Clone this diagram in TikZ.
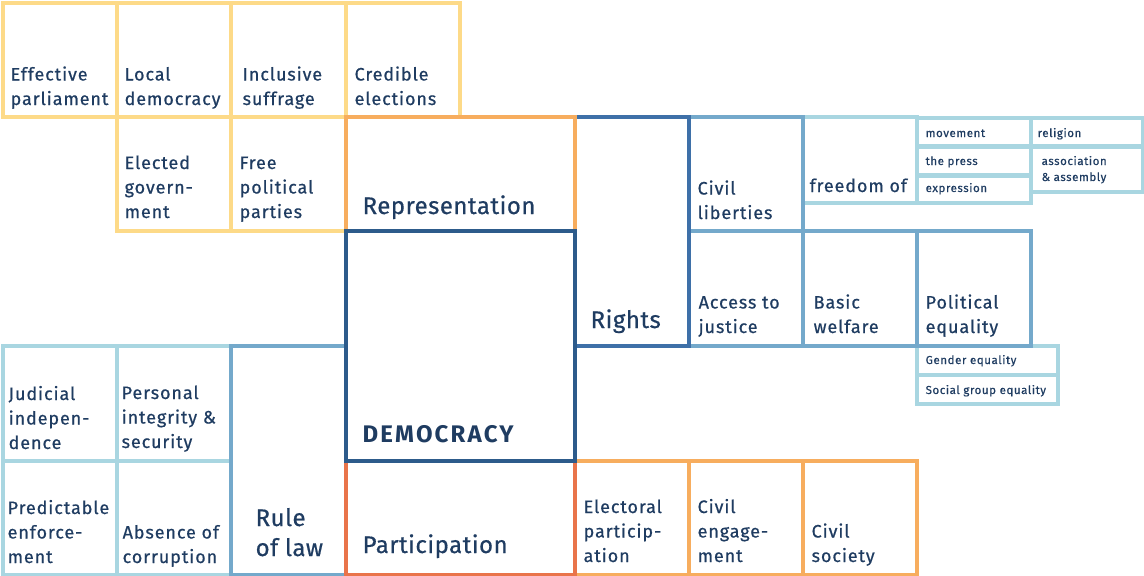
\documentclass[tikz,border=0pt]{standalone}
\usepackage{fontspec}
\setmainfont{Fira Sans}[LetterSpace=5, FakeBold=0.6]
\newfontfamily\bigfont{Fira Sans}[LetterSpace=2, FakeBold=0.6]
\newfontfamily\demfont{Fira Sans}[LetterSpace=9]
\definecolor{yel}{HTML}{FDDA88}
\definecolor{org}{HTML}{F7AD5E}
\definecolor{pcol}{HTML}{E9744A}
\definecolor{dem}{HTML}{2D5B8B}
\definecolor{rgt}{HTML}{3E70A8}
\definecolor{mid}{HTML}{74A9CB}
\definecolor{lt}{HTML}{A9D6E1}
\definecolor{txt}{HTML}{1F3C61}
\begin{document}
\begin{tikzpicture}[x=1pt,y=-1pt, line width=3.3pt, line join=miter,
  lbl/.style={inner sep=0pt, text=txt, align=left, anchor=base west},
  med/.style={lbl, font=\fontsize{18}{24.5}\selectfont},
  big/.style={lbl, font=\bigfont\fontsize{24}{30}\selectfont},
  sml/.style={lbl, font=\fontsize{11.5}{16}\selectfont},
  yelbox/.style={draw=yel},
  orgbox/.style={draw=org},
  parbox/.style={draw=pcol},
  dembox/.style={draw=dem},
  rgtbox/.style={draw=rgt},
  midbox/.style={draw=mid},
  ltbox/.style={draw=lt}]
\useasboundingbox (0,0) rectangle (1144,576);
% yellow boxes
\path[yelbox] (3,3) rectangle (117,117);
\path[yelbox] (117,3) rectangle (231,117);
\path[yelbox] (231,3) rectangle (346,117);
\path[yelbox] (346,3) rectangle (460,117);
\path[yelbox] (117,117) rectangle (231,231);
\path[yelbox] (231,117) rectangle (346,231);
% light blue boxes
\path[ltbox] (803,117) rectangle (917,203);
\path[ltbox] (917,118) rectangle (1031,146);
\path[ltbox] (917,147) rectangle (1031,175);
\path[ltbox] (917,176) rectangle (1031,203);
\path[ltbox] (1031,118) rectangle (1143,146);
\path[ltbox] (1031,147) rectangle (1143,192);
\path[ltbox] (917,346) rectangle (1058,375);
\path[ltbox] (917,375) rectangle (1058,404);
\path[ltbox] (3,346) rectangle (117,461);
\path[ltbox] (117,346) rectangle (231,461);
\path[ltbox] (3,461) rectangle (117,575);
\path[ltbox] (117,461) rectangle (231,575);
% medium blue boxes
\path[midbox] (689,117) rectangle (803,231);
\path[midbox] (689,231) rectangle (803,346);
\path[midbox] (803,231) rectangle (917,346);
\path[midbox] (917,231) rectangle (1031,346);
\path[midbox] (231,346) rectangle (346,575);
% rights
\path[rgtbox] (575,117) rectangle (689,346);
% orange boxes
\path[orgbox] (575,461) rectangle (689,575);
\path[orgbox] (689,461) rectangle (803,575);
\path[orgbox] (803,461) rectangle (917,575);
\path[orgbox] (346,117) rectangle (575,231);
% participation
\path[parbox] (346,461) rectangle (575,575);
% democracy
\path[dembox] (346,231) rectangle (575,461);

% labels
\node[med] (effpar) at (9,105) {Effective\\parliament};
\node[med] (locdem) at (123,105) {Local\\democracy};
\node[med] (incsuf) at (241,105) {Inclusive\\suffrage};
\node[med] (credel) at (353,105) {Credible\\elections};
\node[med] (elegov) at (123,218) {Elected\\govern-\\ment};
\node[med] (frepol) at (238,218) {Free\\political\\parties};
\node[big] (rep) at (361,214) {Representation};
\node[big] (rights) at (589,328) {Rights};
\node[big, font=\demfont\bfseries\fontsize{24}{30}\selectfont] (democ) at (361,442) {DEMOCRACY};
\node[big] (part) at (361,553) {Participation};
\node[big] (rol) at (254,556) {Rule\\of law};
\node[med] (civlib) at (696,219) {Civil\\liberties};
\node[med] (freeof) at (808,192) {freedom of};
\node[sml] (move) at (924,137) {movement};
\node[sml] (press) at (924,165) {the press};
\node[sml] (expr) at (924,192) {expression};
\node[sml] (relig) at (1036,137) {religion};
\node[sml] (assoc) at (1040,181) {association\\\& assembly};
\node[med] (access) at (697,333) {Access to\\justice};
\node[med] (welfare) at (812,333) {Basic\\welfare};
\node[med] (poleq) at (924,333) {Political\\equality};
\node[sml] (gender) at (924,364) {Gender equality};
\node[sml] (social) at (924,394) {Social group equality};
\node[med] (judic) at (7,449) {Judicial\\indepen-\\dence};
\node[med] (person) at (120,448) {Personal\\integrity \&\\security};
\node[med] (predict) at (6,563) {Predictable\\enforce-\\ment};
\node[med] (absence) at (121,563) {Absence of\\corruption};
\node[med] (elect) at (582,562) {Electoral\\particip-\\ation};
\node[med] (engage) at (696,562) {Civil\\engage-\\ment};
\node[med] (society) at (810,562) {Civil\\society};
\end{tikzpicture}
\end{document}
